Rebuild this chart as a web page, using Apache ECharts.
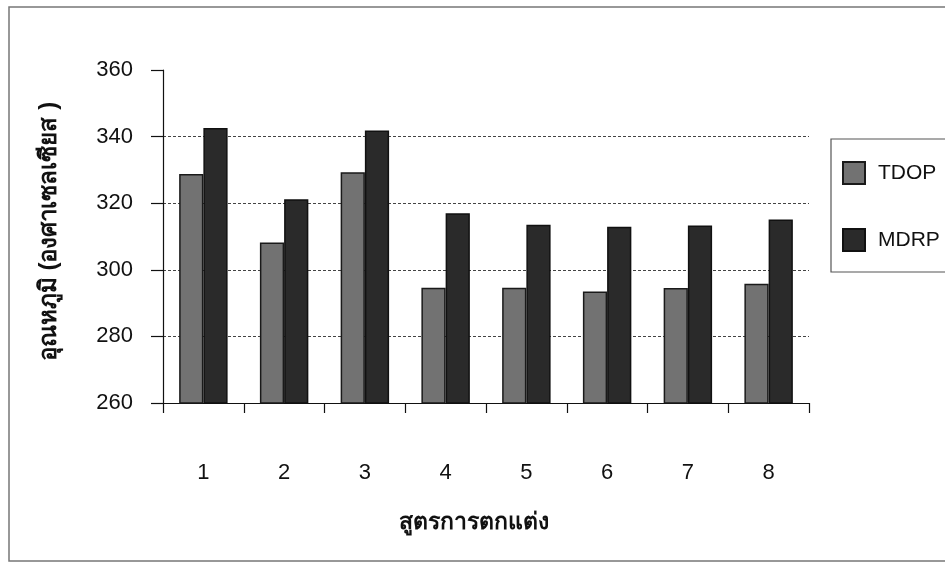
<!DOCTYPE html>
<html>
<head>
<meta charset="utf-8">
<script src="https://cdn.jsdelivr.net/npm/echarts@6/dist/echarts.min.js"></script>
<style>
  html, body { margin: 0; padding: 0; background: #ffffff; }
  #chart { width: 945px; height: 563px; }
</style>
</head>
<body>
<div id="chart"></div>
<script>
// Formulation numbers along the x axis
const categories = ['1', '2', '3', '4', '5', '6', '7', '8'];
// Temperatures (degrees Celsius) for each formulation
const tdopValues = [328.8, 308.2, 329.3, 294.6, 294.6, 293.5, 294.5, 295.8];
const mdrpValues = [342.6, 321.2, 341.8, 317.0, 313.5, 312.9, 313.3, 315.1];
const seriesNames = ['TDOP', 'MDRP'];
const yTicks = { min: 260, max: 360, interval: 20 };

const fontFamily = 'Arial, "Liberation Sans", "Noto Sans", sans-serif';
const chart = echarts.init(document.getElementById('chart'), null, { renderer: 'canvas' });

chart.setOption({
  backgroundColor: '#ffffff',
  animation: false,
  textStyle: { fontFamily: fontFamily },
  graphic: [{
    type: 'rect',
    shape: { x: 9, y: 7, width: 960, height: 554 },
    style: { fill: 'none', stroke: '#777777', lineWidth: 1.5 },
    silent: true,
    z: -1
  }],
  legend: {
    orient: 'vertical',
    left: 831,
    top: 139,
    data: seriesNames,
    itemWidth: 22,
    itemHeight: 22,
    itemGap: 43,
    padding: [22, 40, 20, 11],
    borderColor: '#555555',
    borderWidth: 1.2,
    icon: 'rect',
    textStyle: { fontSize: 21, color: '#111111', padding: [0, 0, 0, 8], fontFamily: fontFamily }
  },
  grid: { left: 163, right: 136, top: 70, bottom: 160 },
  xAxis: {
    type: 'category',
    data: categories,
    name: 'สูตรการตกแต่ง',
    nameLocation: 'middle',
    nameGap: 108,
    nameTextStyle: { fontSize: 23, fontWeight: 'bold', color: '#111111', padding: [0, 24, 0, 0] },
    axisLine: { lineStyle: { color: '#111111', width: 1.2 } },
    axisTick: { show: true, length: 10, lineStyle: { color: '#111111', width: 1.2 } },
    axisLabel: { fontSize: 22, color: '#111111', margin: 59 },
    splitLine: { show: false }
  },
  yAxis: {
    type: 'value',
    min: yTicks.min,
    max: yTicks.max,
    interval: yTicks.interval,
    name: 'อุณหภูมิ (องศาเซลเซียส )',
    nameLocation: 'middle',
    nameRotate: 90,
    nameGap: 102,
    nameTextStyle: { fontSize: 24, fontWeight: 'bold', color: '#111111', padding: [0, 0, 0, 10] },
    axisLine: { show: true, lineStyle: { color: '#111111', width: 1.2 } },
    axisTick: { show: true, length: 12, lineStyle: { color: '#111111', width: 1.2 } },
    axisLabel: { fontSize: 22, color: '#111111', margin: 30 },
    splitLine: { show: true, showMinLine: false, showMaxLine: false, lineStyle: { color: '#444444', width: 1, type: [3, 2] } }
  },
  series: [
    {
      name: seriesNames[0],
      type: 'bar',
      data: tdopValues,
      barGap: '0%',
      barCategoryGap: '40%',
      itemStyle: { color: '#727272', borderColor: '#1a1a1a', borderWidth: 1.5 }
    },
    {
      name: seriesNames[1],
      type: 'bar',
      data: mdrpValues,
      barGap: '0%',
      barCategoryGap: '40%',
      itemStyle: { color: '#2a2a2a', borderColor: '#111111', borderWidth: 1.5 }
    }
  ]
});
</script>
</body>
</html>
